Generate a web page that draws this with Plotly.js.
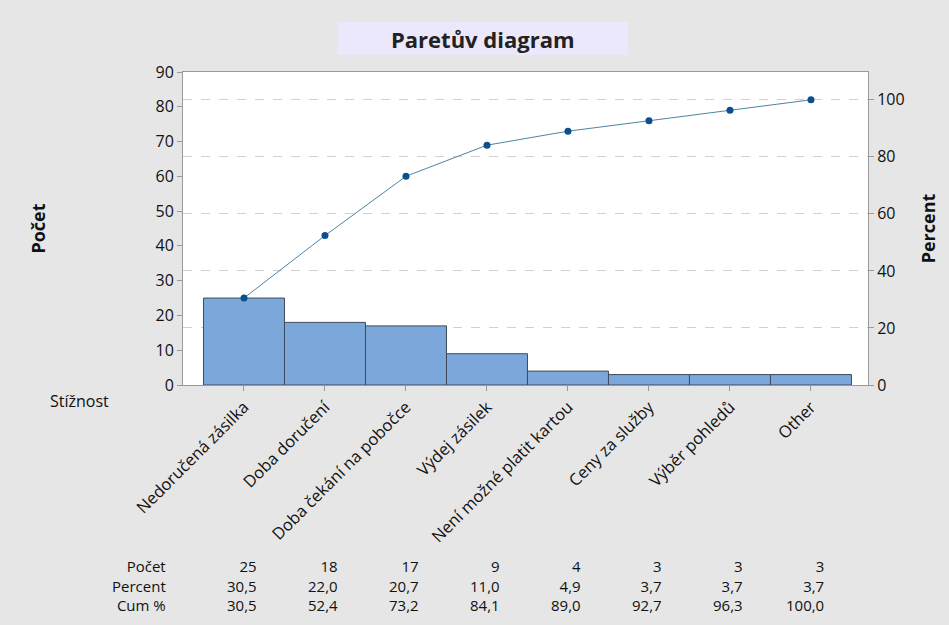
<!DOCTYPE html>
<html>
<head>
<meta charset="utf-8">
<script src="https://cdn.plot.ly/plotly-3.0.1.min.js"></script>
<style>html,body{margin:0;padding:0;background:#e6e6e6;}</style>
</head>
<body>
<div id="chart" style="width:949px;height:625px;"></div>
<script>
const categories = ["Nedoručená zásilka", "Doba doručení", "Doba čekání na pobočce", "Výdej zásilek", "Není možné platit kartou", "Ceny za služby", "Výběr pohledů", "Other"];
const counts = [25, 18, 17, 9, 4, 3, 3, 3];
const percents = [30.5, 22.0, 20.7, 11.0, 4.9, 3.7, 3.7, 3.7];
const cumPercents = [30.5, 52.4, 73.2, 84.1, 89.0, 92.7, 96.3, 100.0];
const rowLabels = ["Počet", "Percent", "Cum %"];
const leftTicks = [0, 10, 20, 30, 40, 50, 60, 70, 80, 90];
const rightTicks = [0, 20, 40, 60, 80, 100];

const FONT = "Open Sans, Noto Sans, sans-serif";
const idx = categories.map((c, i) => i);
const total = counts.reduce((a, b) => a + b, 0);
const fmt = v => v.toFixed(1).replace('.', ',');

const traces = [
  {
    type: 'bar', x: idx, y: counts, width: 1,
    marker: {color: '#7ba7da', line: {color: '#3f4b5c', width: 1}},
    hoverinfo: 'skip', showlegend: false
  },
  {
    type: 'scatter', mode: 'lines+markers', x: idx, y: cumPercents, yaxis: 'y2',
    line: {color: '#4b86a3', width: 1},
    marker: {color: '#0c4f8c', size: 7},
    showlegend: false
  }
];

const annotations = [];
annotations.push({xref: 'paper', yref: 'paper', x: 0.438, y: 1.107, text: '<b>Paretův diagram</b>', showarrow: false, font: {family: FONT, size: 22, color: '#222'}, xanchor: 'center', yanchor: 'middle'});
annotations.push({xref: 'paper', yref: 'paper', x: -0.197, y: -0.05, text: 'Stížnost', showarrow: false, font: {family: FONT, size: 16, color: '#111'}, xanchor: 'left', yanchor: 'middle'});
const tableFont = {family: FONT, size: 15, color: '#111'};
const tableY = (385 - 585) / 313;
annotations.push({xref: 'paper', yref: 'paper', x: -0.022, y: tableY, text: rowLabels.join('<br>'), showarrow: false, xanchor: 'right', yanchor: 'middle', align: 'right', font: tableFont});
idx.forEach(i => {
  const txt = [String(counts[i]), fmt(percents[i]), fmt(cumPercents[i])].join('<br>');
  annotations.push({xref: 'x', yref: 'paper', x: idx[i], xshift: 15, y: tableY, text: txt, showarrow: false, xanchor: 'right', yanchor: 'middle', align: 'right', font: tableFont});
});

const layout = {
  width: 949, height: 625,
  paper_bgcolor: '#e6e6e6', plot_bgcolor: '#ffffff',
  margin: {l: 183, r: 81, t: 72, b: 240},
  font: {family: FONT, size: 16, color: '#111'},
  bargap: 0,
  xaxis: {
    range: [-0.753, 7.704], tickvals: idx, ticktext: categories, tickangle: -45,
    ticks: 'outside', ticklen: 5, tickcolor: '#999',
    showline: true, linecolor: '#999', mirror: true, showgrid: false, zeroline: false,
    tickfont: {family: FONT, size: 16.5, color: '#111'}
  },
  yaxis: {
    range: [0, 90], tickvals: leftTicks, ticks: 'outside', ticklen: 5, tickcolor: '#999',
    showline: true, linecolor: '#999', mirror: true, showgrid: false, zeroline: false,
    title: {text: '<b>Počet</b>', font: {family: FONT, size: 18, color: '#111'}, standoff: 105},
    tickfont: {family: FONT, size: 16, color: '#111'}
  },
  yaxis2: {
    overlaying: 'y', side: 'right', range: [0, 90 / total * 100], tickvals: rightTicks,
    ticks: 'outside', ticklen: 5, tickcolor: '#999',
    showline: true, linecolor: '#999', showgrid: true, gridcolor: '#d0d0d0', griddash: 'dash', gridwidth: 1, zeroline: false,
    title: {text: '<b>Percent</b>', font: {family: FONT, size: 18, color: '#111'}, standoff: 18},
    tickfont: {family: FONT, size: 16, color: '#111'}
  },
  shapes: [
    {type: 'rect', xref: 'paper', yref: 'paper', x0: 0.226, x1: 0.650, y0: 1.054, y1: 1.160, fillcolor: '#ece8fb', line: {width: 0}, layer: 'below'}
  ],
  annotations: annotations
};

Plotly.newPlot('chart', traces, layout, {displayModeBar: false, staticPlot: true});
</script>
</body>
</html>
